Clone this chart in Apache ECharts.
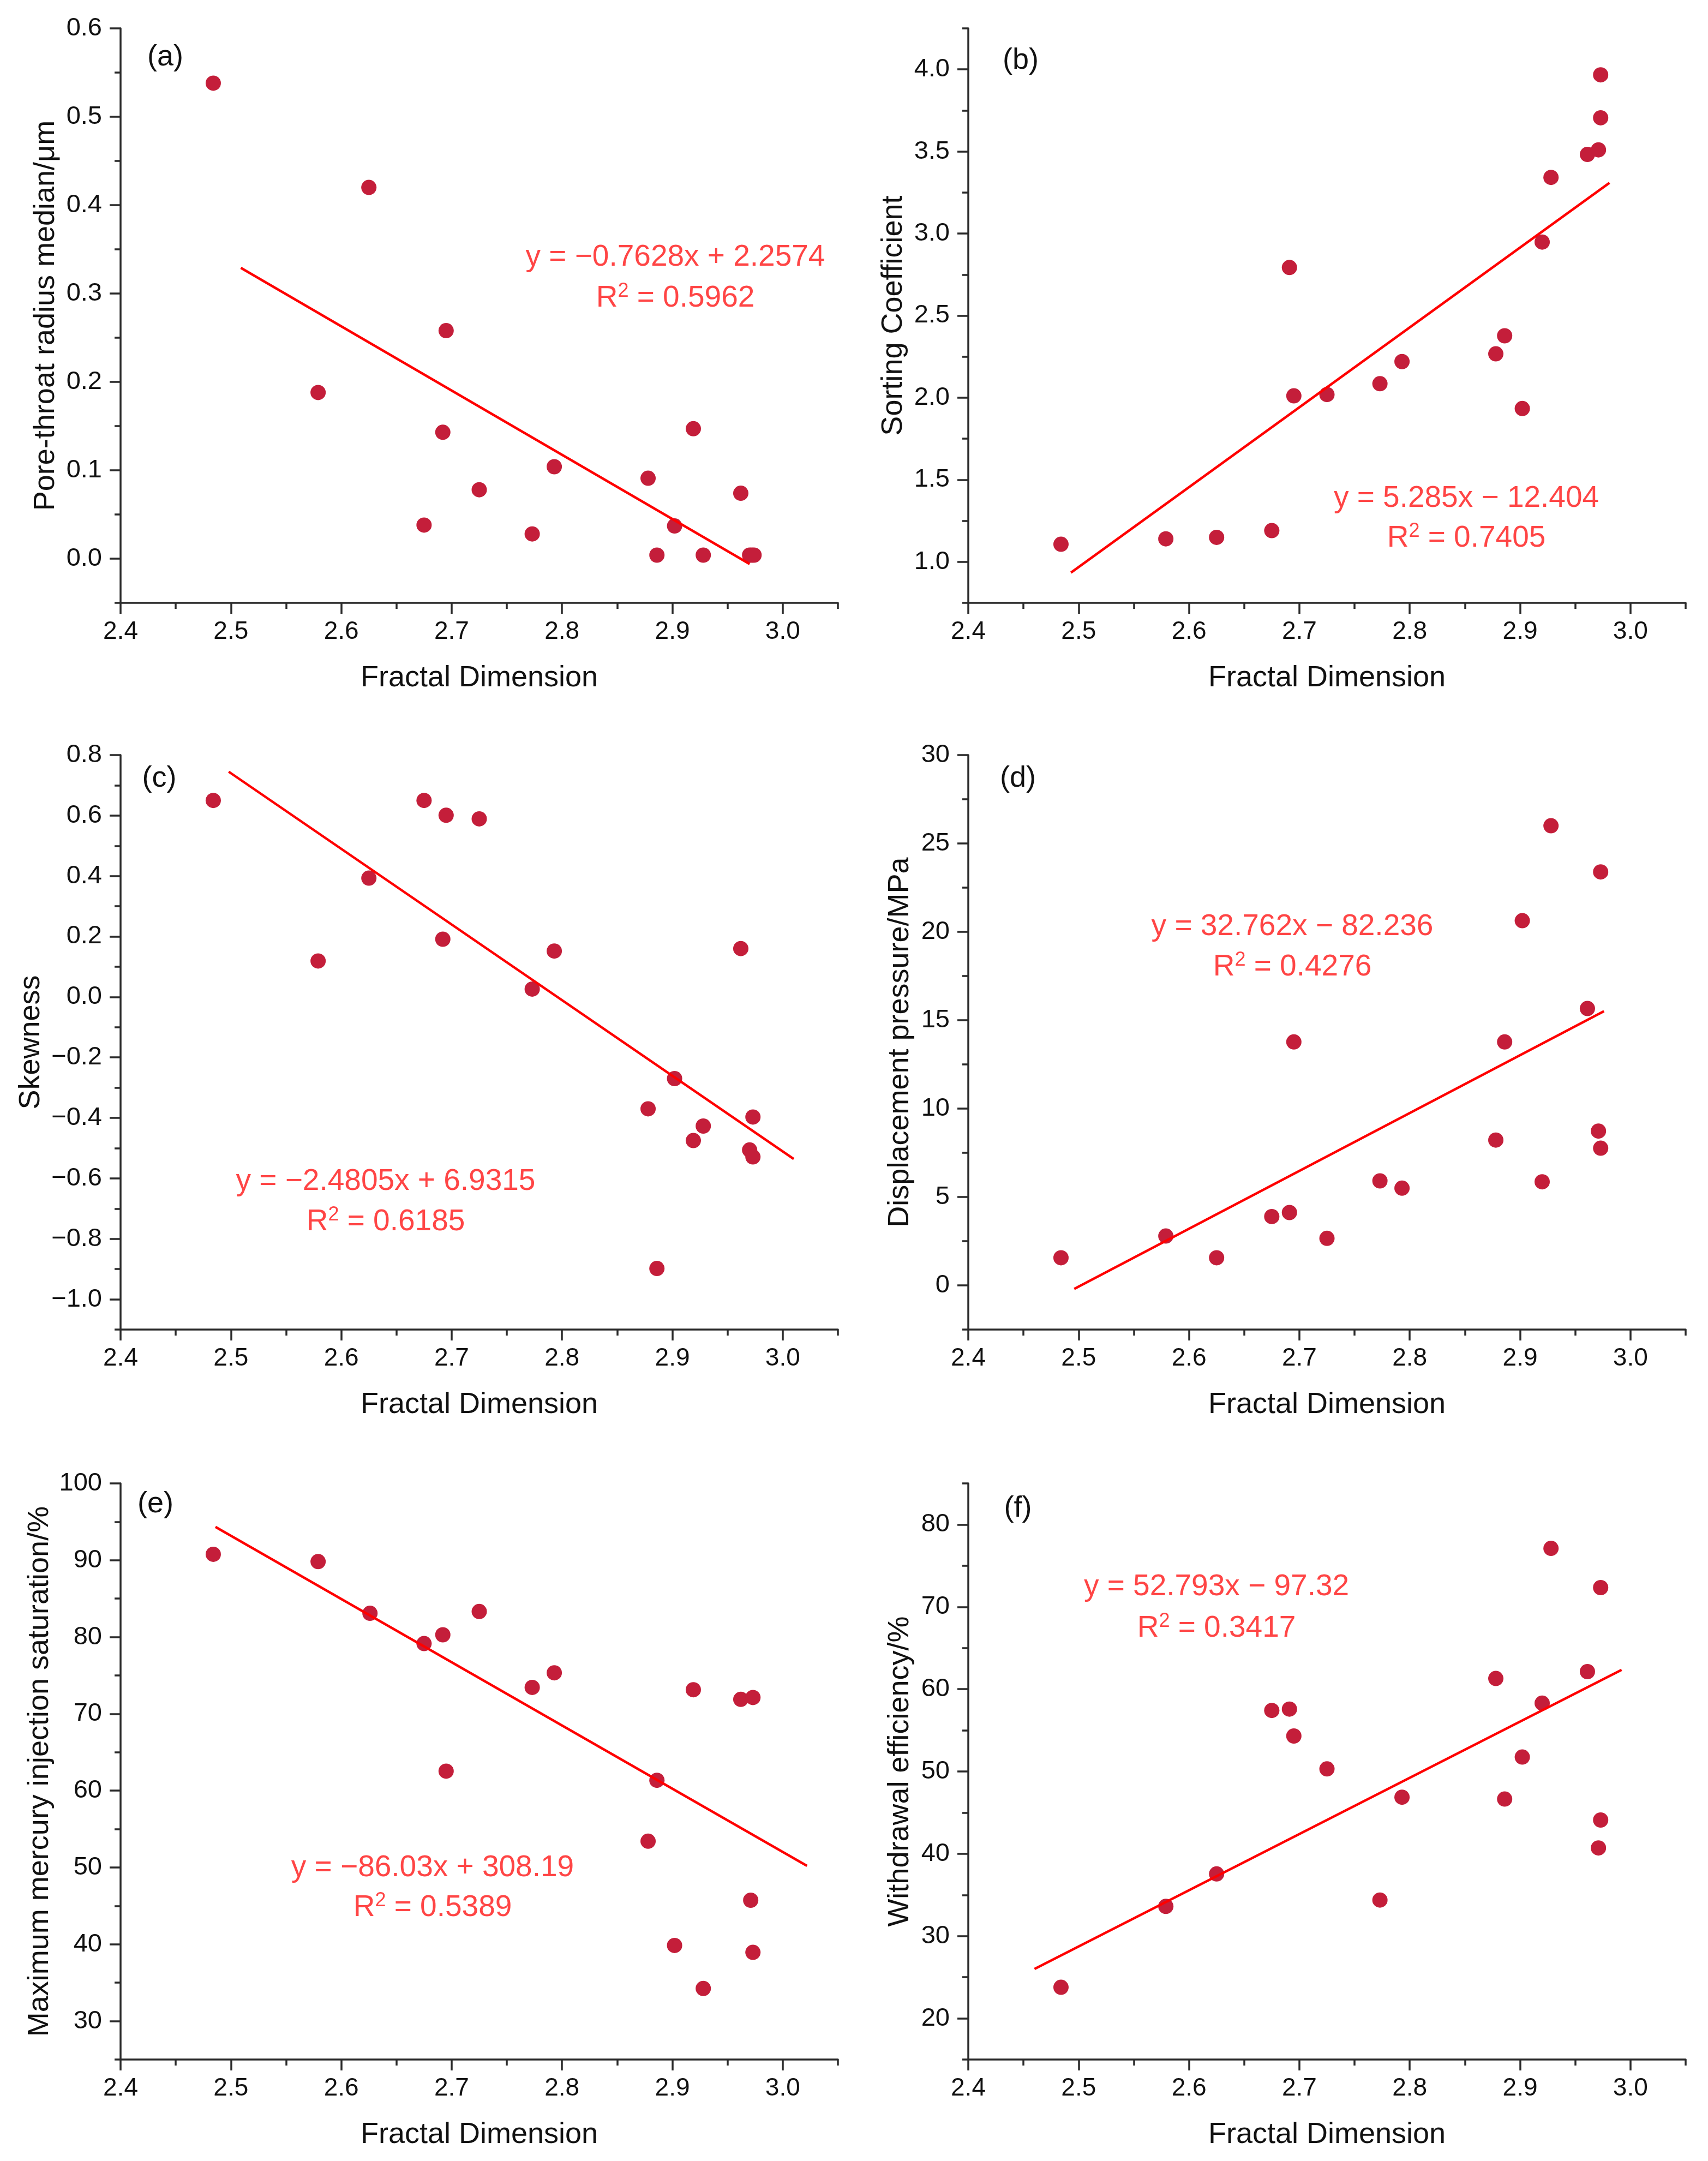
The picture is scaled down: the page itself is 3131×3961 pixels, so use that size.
<!DOCTYPE html>
<html><head><meta charset="utf-8">
<script src="https://cdn.jsdelivr.net/npm/echarts@6/dist/echarts.min.js"></script>
<style>html,body{margin:0;padding:0;background:#fff}#c{width:3131px;height:3961px}</style>
</head><body><div id="c"></div>
<script>
// ---------------- data ----------------
const xTicks = [2.4, 2.5, 2.6, 2.7, 2.8, 2.9, 3.0];

// (a) Pore-throat radius median
const fdA = [2.484, 2.625, 2.579, 2.695, 2.692, 2.675, 2.725, 2.773, 2.793, 2.878, 2.886, 2.902, 2.919, 2.928, 2.962, 2.970, 2.972, 2.974];
const poreRadius = [0.538, 0.420, 0.188, 0.258, 0.143, 0.038, 0.078, 0.028, 0.104, 0.091, 0.004, 0.037, 0.147, 0.004, 0.074, 0.004, 0.004, 0.004];
const fitAx = [2.509, 2.970];
const fitAy = [0.329, -0.006];
const yTicksA = [0.0, 0.1, 0.2, 0.3, 0.4, 0.5, 0.6];

// (b) Sorting coefficient
const fdB = [2.484, 2.579, 2.625, 2.675, 2.691, 2.695, 2.725, 2.773, 2.793, 2.878, 2.886, 2.902, 2.920, 2.928, 2.961, 2.971, 2.973, 2.973];
const sorting = [1.107, 1.140, 1.149, 1.190, 2.793, 2.011, 2.019, 2.085, 2.220, 2.267, 2.377, 1.934, 2.948, 3.342, 3.482, 3.510, 3.705, 3.967];
const fitBx = [2.493, 2.981];
const fitBy = [0.934, 3.309];
const yTicksB = [1.0, 1.5, 2.0, 2.5, 3.0, 3.5, 4.0];

// (c) Skewness
const fdC = [2.484, 2.579, 2.625, 2.675, 2.695, 2.692, 2.725, 2.773, 2.793, 2.878, 2.886, 2.902, 2.919, 2.928, 2.962, 2.970, 2.973, 2.973];
const skewness = [0.650, 0.119, 0.393, 0.650, 0.601, 0.191, 0.589, 0.026, 0.152, -0.370, -0.898, -0.270, -0.475, -0.427, 0.160, -0.506, -0.397, -0.529];
const fitCx = [2.498, 3.010];
const fitCy = [0.745, -0.536];
const yTicksC = [-1.0, -0.8, -0.6, -0.4, -0.2, 0.0, 0.2, 0.4, 0.6, 0.8];

// (d) Displacement pressure
const fdD = [2.484, 2.579, 2.625, 2.675, 2.691, 2.695, 2.725, 2.773, 2.793, 2.878, 2.886, 2.902, 2.920, 2.928, 2.961, 2.971, 2.973, 2.973];
const dispPressure = [1.56, 2.79, 1.56, 3.89, 4.12, 13.77, 2.66, 5.91, 5.50, 8.22, 13.77, 20.63, 5.86, 26.00, 15.66, 8.73, 23.39, 7.76];
const fitDx = [2.496, 2.976];
const fitDy = [-0.20, 15.51];
const yTicksD = [0, 5, 10, 15, 20, 25, 30];

// (e) Maximum mercury injection saturation
const fdE = [2.484, 2.579, 2.626, 2.675, 2.692, 2.695, 2.725, 2.773, 2.793, 2.878, 2.886, 2.902, 2.919, 2.928, 2.962, 2.971, 2.973, 2.973];
const maxSat = [90.77, 89.82, 83.09, 79.15, 80.29, 62.54, 83.32, 73.44, 75.34, 53.42, 61.35, 39.85, 73.14, 34.25, 71.89, 45.74, 72.13, 38.95];
const fitEx = [2.486, 3.022];
const fitEy = [94.34, 50.21];
const yTicksE = [30, 40, 50, 60, 70, 80, 90, 100];

// (f) Withdrawal efficiency
const fdF = [2.484, 2.579, 2.625, 2.675, 2.691, 2.695, 2.725, 2.773, 2.793, 2.878, 2.886, 2.902, 2.920, 2.928, 2.961, 2.971, 2.973, 2.973];
const withdrawal = [23.78, 33.61, 37.55, 57.41, 57.58, 54.31, 50.31, 34.38, 46.87, 61.30, 46.65, 51.75, 58.30, 77.11, 62.13, 40.71, 44.10, 72.34];
const fitFx = [2.460, 2.992];
const fitFy = [26.0, 62.35];
const yTicksF = [20, 30, 40, 50, 60, 70, 80];

const xTitle = 'Fractal Dimension';
const panelLabels = ['(a)', '(b)', '(c)', '(d)', '(e)', '(f)'];
const yTitles = ['Pore-throat radius median/μm', 'Sorting Coefficient', 'Skewness',
  'Displacement pressure/MPa', 'Maximum mercury injection saturation/%', 'Withdrawal efficiency/%'];
const eqLine1 = ['y = −0.7628x + 2.2574', 'y = 5.285x − 12.404', 'y = −2.4805x + 6.9315',
  'y = 32.762x − 82.236', 'y = −86.03x + 308.19', 'y = 52.793x − 97.32'];
const r2Values = ['0.5962', '0.7405', '0.6185', '0.4276', '0.5389', '0.3417'];

// ---------------- layout / style ----------------
const FONT = 'Arial, "Liberation Sans", Helvetica, sans-serif';
const AX = '#2b2b2b';
const DOT = '#C41E3A';
const FIT = '#FF0000';
const EQ = '#FF4545';

const colLeft = [221, 1775];
const gridW = 1315;
const rowTop = [52, 1384, 2719];
const gridH = [1053, 1053, 1056];

const panels = [
  {xs: fdA, ys: poreRadius, fx: fitAx, fy: fitAy, yMin: -0.05, yMax: 0.6, yMaj: yTicksA, dec: 1, nameGap: 110,
    lab: [303, 105], eq: [1238, 472, 547]},
  {xs: fdB, ys: sorting, fx: fitBx, fy: fitBy, yMin: 0.75, yMax: 4.25, yMaj: yTicksB, dec: 1, nameGap: 110,
    lab: [1871, 111], eq: [2688, 914, 987]},
  {xs: fdC, ys: skewness, fx: fitCx, fy: fitCy, yMin: -1.1, yMax: 0.8, yMaj: yTicksC, dec: 1, nameGap: 137,
    lab: [292, 1427], eq: [707, 2166, 2240]},
  {xs: fdD, ys: dispPressure, fx: fitDx, fy: fitDy, yMin: -2.5, yMax: 30, yMaj: yTicksD, dec: 0, nameGap: 98,
    lab: [1866, 1427], eq: [2369, 1699, 1773]},
  {xs: fdE, ys: maxSat, fx: fitEx, fy: fitEy, yMin: 25, yMax: 100, yMaj: yTicksE, dec: 0, nameGap: 121,
    lab: [285, 2757], eq: [793, 3424, 3497]},
  {xs: fdF, ys: withdrawal, fx: fitFx, fy: fitFy, yMin: 15, yMax: 85, yMaj: yTicksF, dec: 0, nameGap: 98,
    lab: [1866, 2765], eq: [2230, 2909, 2985]}
];

function fmt(v, dec) {
  const s = Math.abs(v).toFixed(dec);
  return (v < -1e-9 ? '−' : '') + s;
}
function minorsOf(major, min, max) {
  const step = (major[1] - major[0]) / 2;
  const out = [];
  const start = Math.ceil((min - 1e-9) / step) * step;
  for (let v = start; v <= max + 1e-9; v += step) {
    const r = Math.round(v / step) * step;
    if (!major.some(m => Math.abs(m - r) < 1e-6)) out.push(+r.toFixed(6));
  }
  return out;
}

const grids = [], xAxes = [], yAxes = [], series = [], graphics = [];
panels.forEach((p, i) => {
  const col = i % 2, row = Math.floor(i / 2);
  grids.push({left: colLeft[col], top: rowTop[row], width: gridW, height: gridH[row], containLabel: false});
  const xMin = 2.4, xMax = 3.05;
  const line = {show: true, onZero: false, lineStyle: {color: AX, width: 3.5}};
  xAxes.push({
    gridIndex: i, type: 'value', min: xMin, max: xMax, position: 'bottom',
    name: xTitle, nameLocation: 'middle', nameGap: 111,
    nameTextStyle: {fontFamily: FONT, fontSize: 54, color: '#111'},
    axisLine: line,
    axisTick: {show: true, customValues: xTicks, length: 20, inside: false, lineStyle: {color: AX, width: 3.5}},
    axisLabel: {show: true, customValues: xTicks, margin: 30, fontFamily: FONT, fontSize: 46, color: '#111',
      formatter: v => fmt(v, 1)},
    splitLine: {show: false}
  });
  xAxes.push({
    gridIndex: i, type: 'value', min: xMin, max: xMax, position: 'bottom',
    axisLine: {show: false, onZero: false},
    axisTick: {show: true, customValues: minorsOf(xTicks, xMin, xMax), length: 11, lineStyle: {color: AX, width: 3.5}},
    axisLabel: {show: false}, splitLine: {show: false}
  });
  yAxes.push({
    gridIndex: i, type: 'value', min: p.yMin, max: p.yMax, position: 'left',
    name: yTitles[i], nameLocation: 'middle', nameGap: p.nameGap, nameRotate: 90,
    nameTextStyle: {fontFamily: FONT, fontSize: 54, color: '#111'},
    axisLine: line,
    axisTick: {show: true, customValues: p.yMaj, length: 20, lineStyle: {color: AX, width: 3.5}},
    axisLabel: {show: true, customValues: p.yMaj, margin: 34, fontFamily: FONT, fontSize: 47, color: '#111',
      formatter: v => fmt(v, p.dec)},
    splitLine: {show: false}
  });
  yAxes.push({
    gridIndex: i, type: 'value', min: p.yMin, max: p.yMax, position: 'left',
    axisLine: {show: false, onZero: false},
    axisTick: {show: true, customValues: minorsOf(p.yMaj, p.yMin, p.yMax), length: 11, lineStyle: {color: AX, width: 3.5}},
    axisLabel: {show: false}, splitLine: {show: false}
  });
  series.push({
    type: 'scatter', xAxisIndex: 2 * i, yAxisIndex: 2 * i,
    data: p.xs.map((x, k) => [x, p.ys[k]]),
    symbol: 'circle', symbolSize: 28, itemStyle: {color: DOT, opacity: 1}, z: 3
  });
  series.push({
    type: 'line', xAxisIndex: 2 * i, yAxisIndex: 2 * i,
    data: p.fx.map((x, k) => [x, p.fy[k]]),
    symbol: 'none', lineStyle: {color: FIT, width: 4.5}, z: 4
  });
  graphics.push({type: 'text', x: p.lab[0], y: p.lab[1],
    style: {text: panelLabels[i], font: '54px ' + FONT, fill: '#111', textAlign: 'center', textVerticalAlign: 'middle'}});
  graphics.push({type: 'text', x: p.eq[0], y: p.eq[1],
    style: {text: eqLine1[i], font: '55px ' + FONT, fill: EQ, textAlign: 'center', textVerticalAlign: 'middle'}});
  graphics.push({type: 'text', x: p.eq[0], y: p.eq[2],
    style: {
      text: '{n|R}{s|2}{n| = ' + r2Values[i] + '}',
      textAlign: 'center', textVerticalAlign: 'middle',
      rich: {
        n: {fontSize: 55, fontFamily: FONT, fill: EQ, lineHeight: 62},
        s: {fontSize: 36, fontFamily: FONT, fill: EQ, verticalAlign: 'top', lineHeight: 62}
      }
    }});
});

const chart = echarts.init(document.getElementById('c'), null, {renderer: 'canvas'});
chart.setOption({
  backgroundColor: '#ffffff',
  animation: false,
  grid: grids,
  xAxis: xAxes,
  yAxis: yAxes,
  series: series,
  graphic: graphics
});
</script>
</body></html>
